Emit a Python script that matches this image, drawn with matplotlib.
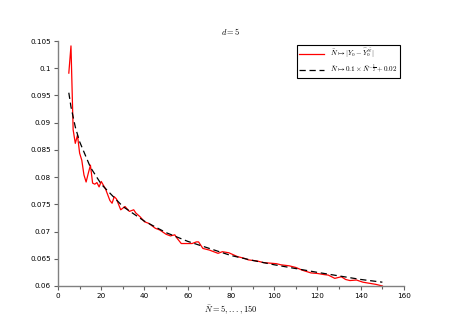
import matplotlib
matplotlib.use("Agg")
import matplotlib.pyplot as plt

plt.rcParams['mathtext.fontset'] = 'cm'
plt.rcParams['font.family'] = ['DejaVu Sans']

# Red series: |Y0 - Yhat0^N|
n_err = [5, 6, 7, 8, 9, 10, 11, 12, 13, 14, 15, 16, 17, 18, 19, 20, 22, 24, 25, 26,
         27, 29, 31, 33, 35, 36, 38, 40, 42, 43, 45, 47, 50, 52, 54, 55, 57, 60, 62,
         64, 65, 67, 70, 72, 74, 76, 79, 83, 86, 88, 92, 95, 98, 101, 103, 107, 110,
         113, 117, 120, 123, 125, 128, 131, 133, 135, 138, 141, 144, 147, 150]
err = [0.0991, 0.1041, 0.0887, 0.0862, 0.0877, 0.0844, 0.0831, 0.0804, 0.0791, 0.0807,
       0.0822, 0.0789, 0.0787, 0.0790, 0.0782, 0.0792, 0.0778, 0.0757, 0.0752, 0.0764,
       0.0760, 0.0740, 0.0746, 0.0737, 0.0740, 0.0734, 0.0727, 0.0718, 0.0715, 0.0712,
       0.0706, 0.0703, 0.0695, 0.0692, 0.0694, 0.0688, 0.0678, 0.0678, 0.0678, 0.0681,
       0.0681, 0.0669, 0.0666, 0.0663, 0.0660, 0.0663, 0.0661, 0.0654, 0.0651, 0.0648,
       0.0646, 0.0643, 0.0642, 0.0641, 0.0639, 0.0637, 0.0634, 0.0629, 0.0624, 0.0623,
       0.0621, 0.0620, 0.0614, 0.0617, 0.0612, 0.0610, 0.0611, 0.0607, 0.0605, 0.0603,
       0.0600]

# Dashed reference curve
n_ref = [5, 6, 8, 10, 15, 20, 30, 40, 50, 60, 70, 80, 90, 100, 120, 140, 150]
ref = [0.0955, 0.0929, 0.0892, 0.0865, 0.0818, 0.0787, 0.0746, 0.0719, 0.0698, 0.0682,
       0.0669, 0.0656, 0.0647, 0.0639, 0.0625, 0.0612, 0.0607]

x_ticks = [0, 20, 40, 60, 80, 100, 120, 140, 160]
y_ticks = [0.06, 0.065, 0.07, 0.075, 0.08, 0.085, 0.09, 0.095, 0.1, 0.105]
y_labels = ['0.06', '0.065', '0.07', '0.075', '0.08', '0.085', '0.09', '0.095', '0.1', '0.105']

fig = plt.figure(figsize=(4.63, 3.27), dpi=100)
ax = fig.add_axes([58/463, 1-286/327, (404-58)/463, (286-41)/327])

ax.plot(n_err, err, color='red', lw=0.9,
        label=r'$\bar{N}\mapsto|Y_0-\widehat{Y}_0^{\bar{N}}|$')
ax.plot(n_ref, ref, color='black', lw=0.9, ls=(0, (5, 3)),
        label=r'$\bar{N}\mapsto 0.1\times\bar{N}^{-\frac{1}{2}}+0.02$')

ax.set_xlim(0, 160)
ax.set_ylim(0.06, 0.105)
ax.set_xticks(x_ticks)
ax.set_xticklabels([str(v) for v in x_ticks])
ax.set_xticks([10, 30, 50, 70, 90, 110, 130, 150], minor=True)
ax.set_yticks(y_ticks)
ax.set_yticklabels(y_labels)

for s in ['top', 'right']:
    ax.spines[s].set_visible(False)
for s in ['left', 'bottom']:
    ax.spines[s].set_color('#808080')
    ax.spines[s].set_linewidth(1.0)
ax.tick_params(axis='both', which='major', direction='out', length=3, width=0.8,
               color='#606060', labelsize=5.2, pad=2)
ax.tick_params(axis='x', which='minor', direction='out', length=2, width=0.8,
               color='#606060')

ax.set_title(r'$d=5$', fontsize=6, pad=4)
ax.set_xlabel(r'$\bar{N}=5,...,150$', fontsize=6, labelpad=3)

leg = ax.legend(loc='upper right', fontsize=5.2, frameon=True, fancybox=False,
                edgecolor='black', framealpha=1, handlelength=3.5,
                borderpad=0.35, labelspacing=0.35, handletextpad=0.8,
                bbox_to_anchor=(1.0, 1.0))
leg.get_frame().set_linewidth(0.8)

fig.savefig('out.png', dpi=100)
